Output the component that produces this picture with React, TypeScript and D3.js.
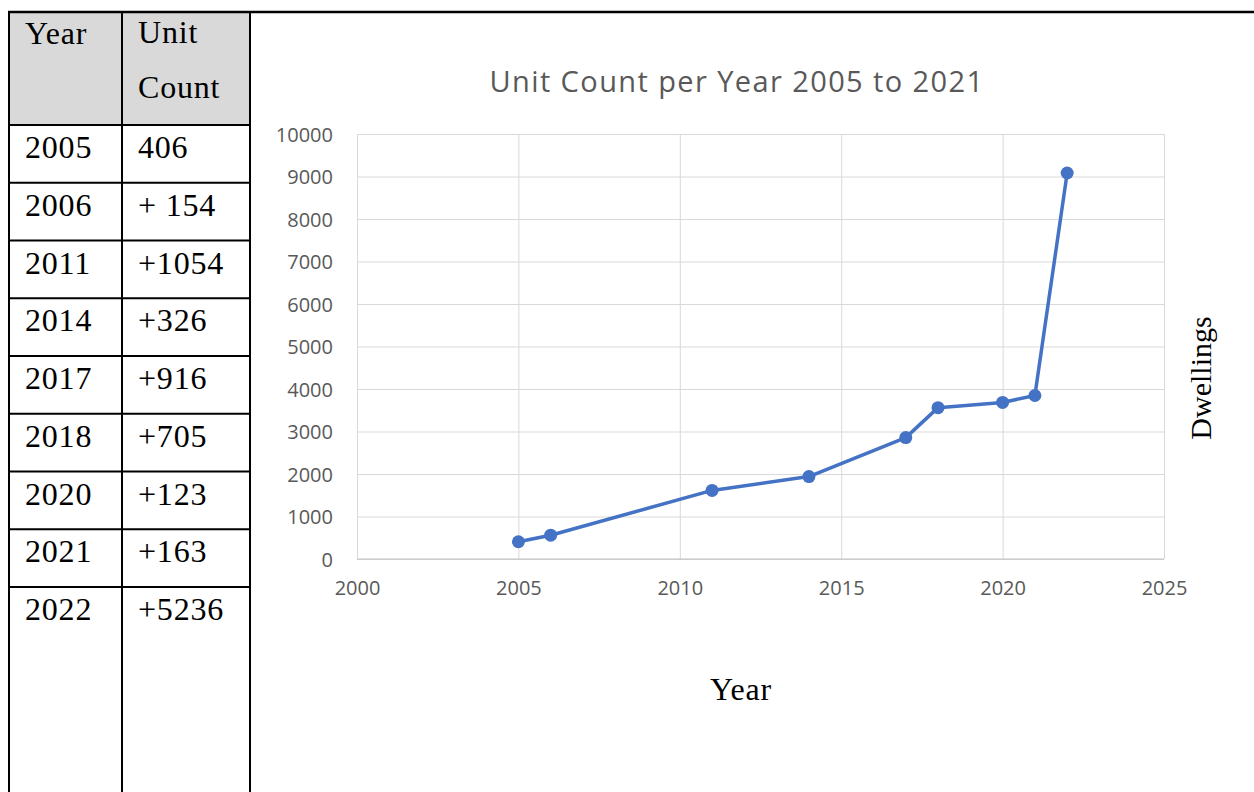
import React, { useRef, useEffect } from 'react';
import * as d3 from 'd3';

// table rows as printed beside the chart
const tableYears = ['2005', '2006', '2011', '2014', '2017', '2018', '2020', '2021', '2022'];
const tableCounts = ['406', '+ 154', '+1054', '+326', '+916', '+705', '+123', '+163', '+5236'];

// units added each year (same numbers as the table)
const years = [2005, 2006, 2011, 2014, 2017, 2018, 2020, 2021, 2022];
const added = [406, 154, 1054, 326, 916, 705, 123, 163, 5236];

const xTicks = [2000, 2005, 2010, 2015, 2020, 2025];
const yTicks = [0, 1000, 2000, 3000, 4000, 5000, 6000, 7000, 8000, 9000, 10000];

const W = 1254;
const H = 792;

export default function App() {
  const svgRef = useRef<SVGSVGElement>(null);

  useEffect(() => {
    if (!svgRef.current) return;
    const svg = d3.select(svgRef.current);
    svg.selectAll('*').remove();

    const serif = '"Liberation Serif", serif';
    const sans = '"Open Sans", sans-serif';

    // ---- table ----
    const tLeft = 9, tMid = 122, tRight = 250, tTop = 12, headBottom = 125;
    const rowH = 57.75;
    const table = svg.append('g');

    table.append('rect')
      .attr('x', tLeft).attr('y', tTop)
      .attr('width', tRight - tLeft).attr('height', headBottom - tTop)
      .attr('fill', '#d9d9d9');

    table.selectAll('.row-line')
      .data(d3.range(tableYears.length))
      .join('line')
      .attr('x1', tLeft).attr('x2', tRight)
      .attr('y1', i => headBottom + i * rowH)
      .attr('y2', i => headBottom + i * rowH)
      .attr('stroke', '#000').attr('stroke-width', 2);

    // top border runs across the whole page
    table.append('line')
      .attr('x1', tLeft - 1).attr('x2', W).attr('y1', tTop).attr('y2', tTop)
      .attr('stroke', '#000').attr('stroke-width', 2.5);

    [tLeft, tMid, tRight].forEach(x => {
      table.append('line')
        .attr('x1', x).attr('x2', x).attr('y1', tTop).attr('y2', H)
        .attr('stroke', '#000').attr('stroke-width', 2);
    });

    const cellText = (x: number, y: number, s: string) =>
      table.append('text')
        .attr('x', x).attr('y', y)
        .attr('font-family', serif).attr('font-size', 32)
        .attr('letter-spacing', 0.8)
        .attr('fill', '#000')
        .text(s);

    cellText(25, 44, 'Year');
    cellText(138, 43, 'Unit');
    cellText(138, 98, 'Count');
    tableYears.forEach((s, i) => cellText(25, headBottom + 33 + i * rowH, s));
    tableCounts.forEach((s, i) => cellText(138, headBottom + 33 + i * rowH, s));

    // ---- chart ----
    const left = 357, right = 1164, top = 134, bottom = 559;
    const x = d3.scaleLinear().domain([2000, 2025]).range([left, right]);
    const y = d3.scaleLinear().domain([0, 10000]).range([bottom, top]);

    const totals = d3.cumsum(added);
    const data = years.map((yr, i) => ({ yr, v: totals[i] }));

    const chart = svg.append('g');

    chart.append('g')
      .attr('transform', `translate(0,${bottom})`)
      .call(d3.axisBottom(x).tickValues(xTicks).tickSize(-(bottom - top)).tickFormat(d3.format('d')))
      .call(g => g.select('.domain').remove())
      .call(g => g.selectAll('.tick line').attr('stroke', '#d9d9d9'))
      .call(g => g.selectAll('.tick text')
        .attr('dy', 0).attr('y', 36)
        .attr('font-family', sans).attr('font-size', 20).attr('fill', '#595959'));

    chart.append('g')
      .attr('transform', `translate(${left},0)`)
      .call(d3.axisLeft(y).tickValues(yTicks).tickSize(-(right - left)).tickFormat(d3.format('d')))
      .call(g => g.select('.domain').remove())
      .call(g => g.selectAll('.tick line').attr('stroke', '#d9d9d9'))
      .call(g => g.selectAll('.tick text')
        .attr('x', -24).attr('dy', '0.35em')
        .attr('font-family', sans).attr('font-size', 20).attr('fill', '#595959'));

    chart.append('line')
      .attr('x1', left).attr('x2', right).attr('y1', bottom).attr('y2', bottom)
      .attr('stroke', '#bfbfbf').attr('stroke-width', 1.2);

    const line = d3.line<{ yr: number; v: number }>()
      .x(d => x(d.yr))
      .y(d => y(d.v));

    chart.append('path')
      .datum(data)
      .attr('d', line)
      .attr('fill', 'none')
      .attr('stroke', '#4472c4')
      .attr('stroke-width', 3.5)
      .attr('stroke-linejoin', 'round');

    chart.selectAll('.dot')
      .data(data)
      .join('circle')
      .attr('class', 'dot')
      .attr('cx', d => x(d.yr))
      .attr('cy', d => y(d.v))
      .attr('r', 6.5)
      .attr('fill', '#4472c4');

    chart.append('text')
      .attr('x', 737).attr('y', 92)
      .attr('text-anchor', 'middle')
      .attr('font-family', sans).attr('font-size', 29)
      .attr('letter-spacing', 1.4)
      .attr('fill', '#595959')
      .text('Unit Count per Year 2005 to 2021');

    chart.append('text')
      .attr('x', 741).attr('y', 700)
      .attr('text-anchor', 'middle')
      .attr('font-family', serif).attr('font-size', 32)
      .attr('letter-spacing', 0.8)
      .attr('fill', '#000')
      .text('Year');

    chart.append('text')
      .attr('transform', `translate(1211,378) rotate(-90)`)
      .attr('text-anchor', 'middle')
      .attr('font-family', serif).attr('font-size', 30)
      .attr('fill', '#000')
      .text('Dwellings');
  }, []);

  return (
    <svg
      ref={svgRef}
      width={W}
      height={H}
      style={{ position: 'absolute', left: 0, top: 0, background: '#fff' }}
    />
  );
}
